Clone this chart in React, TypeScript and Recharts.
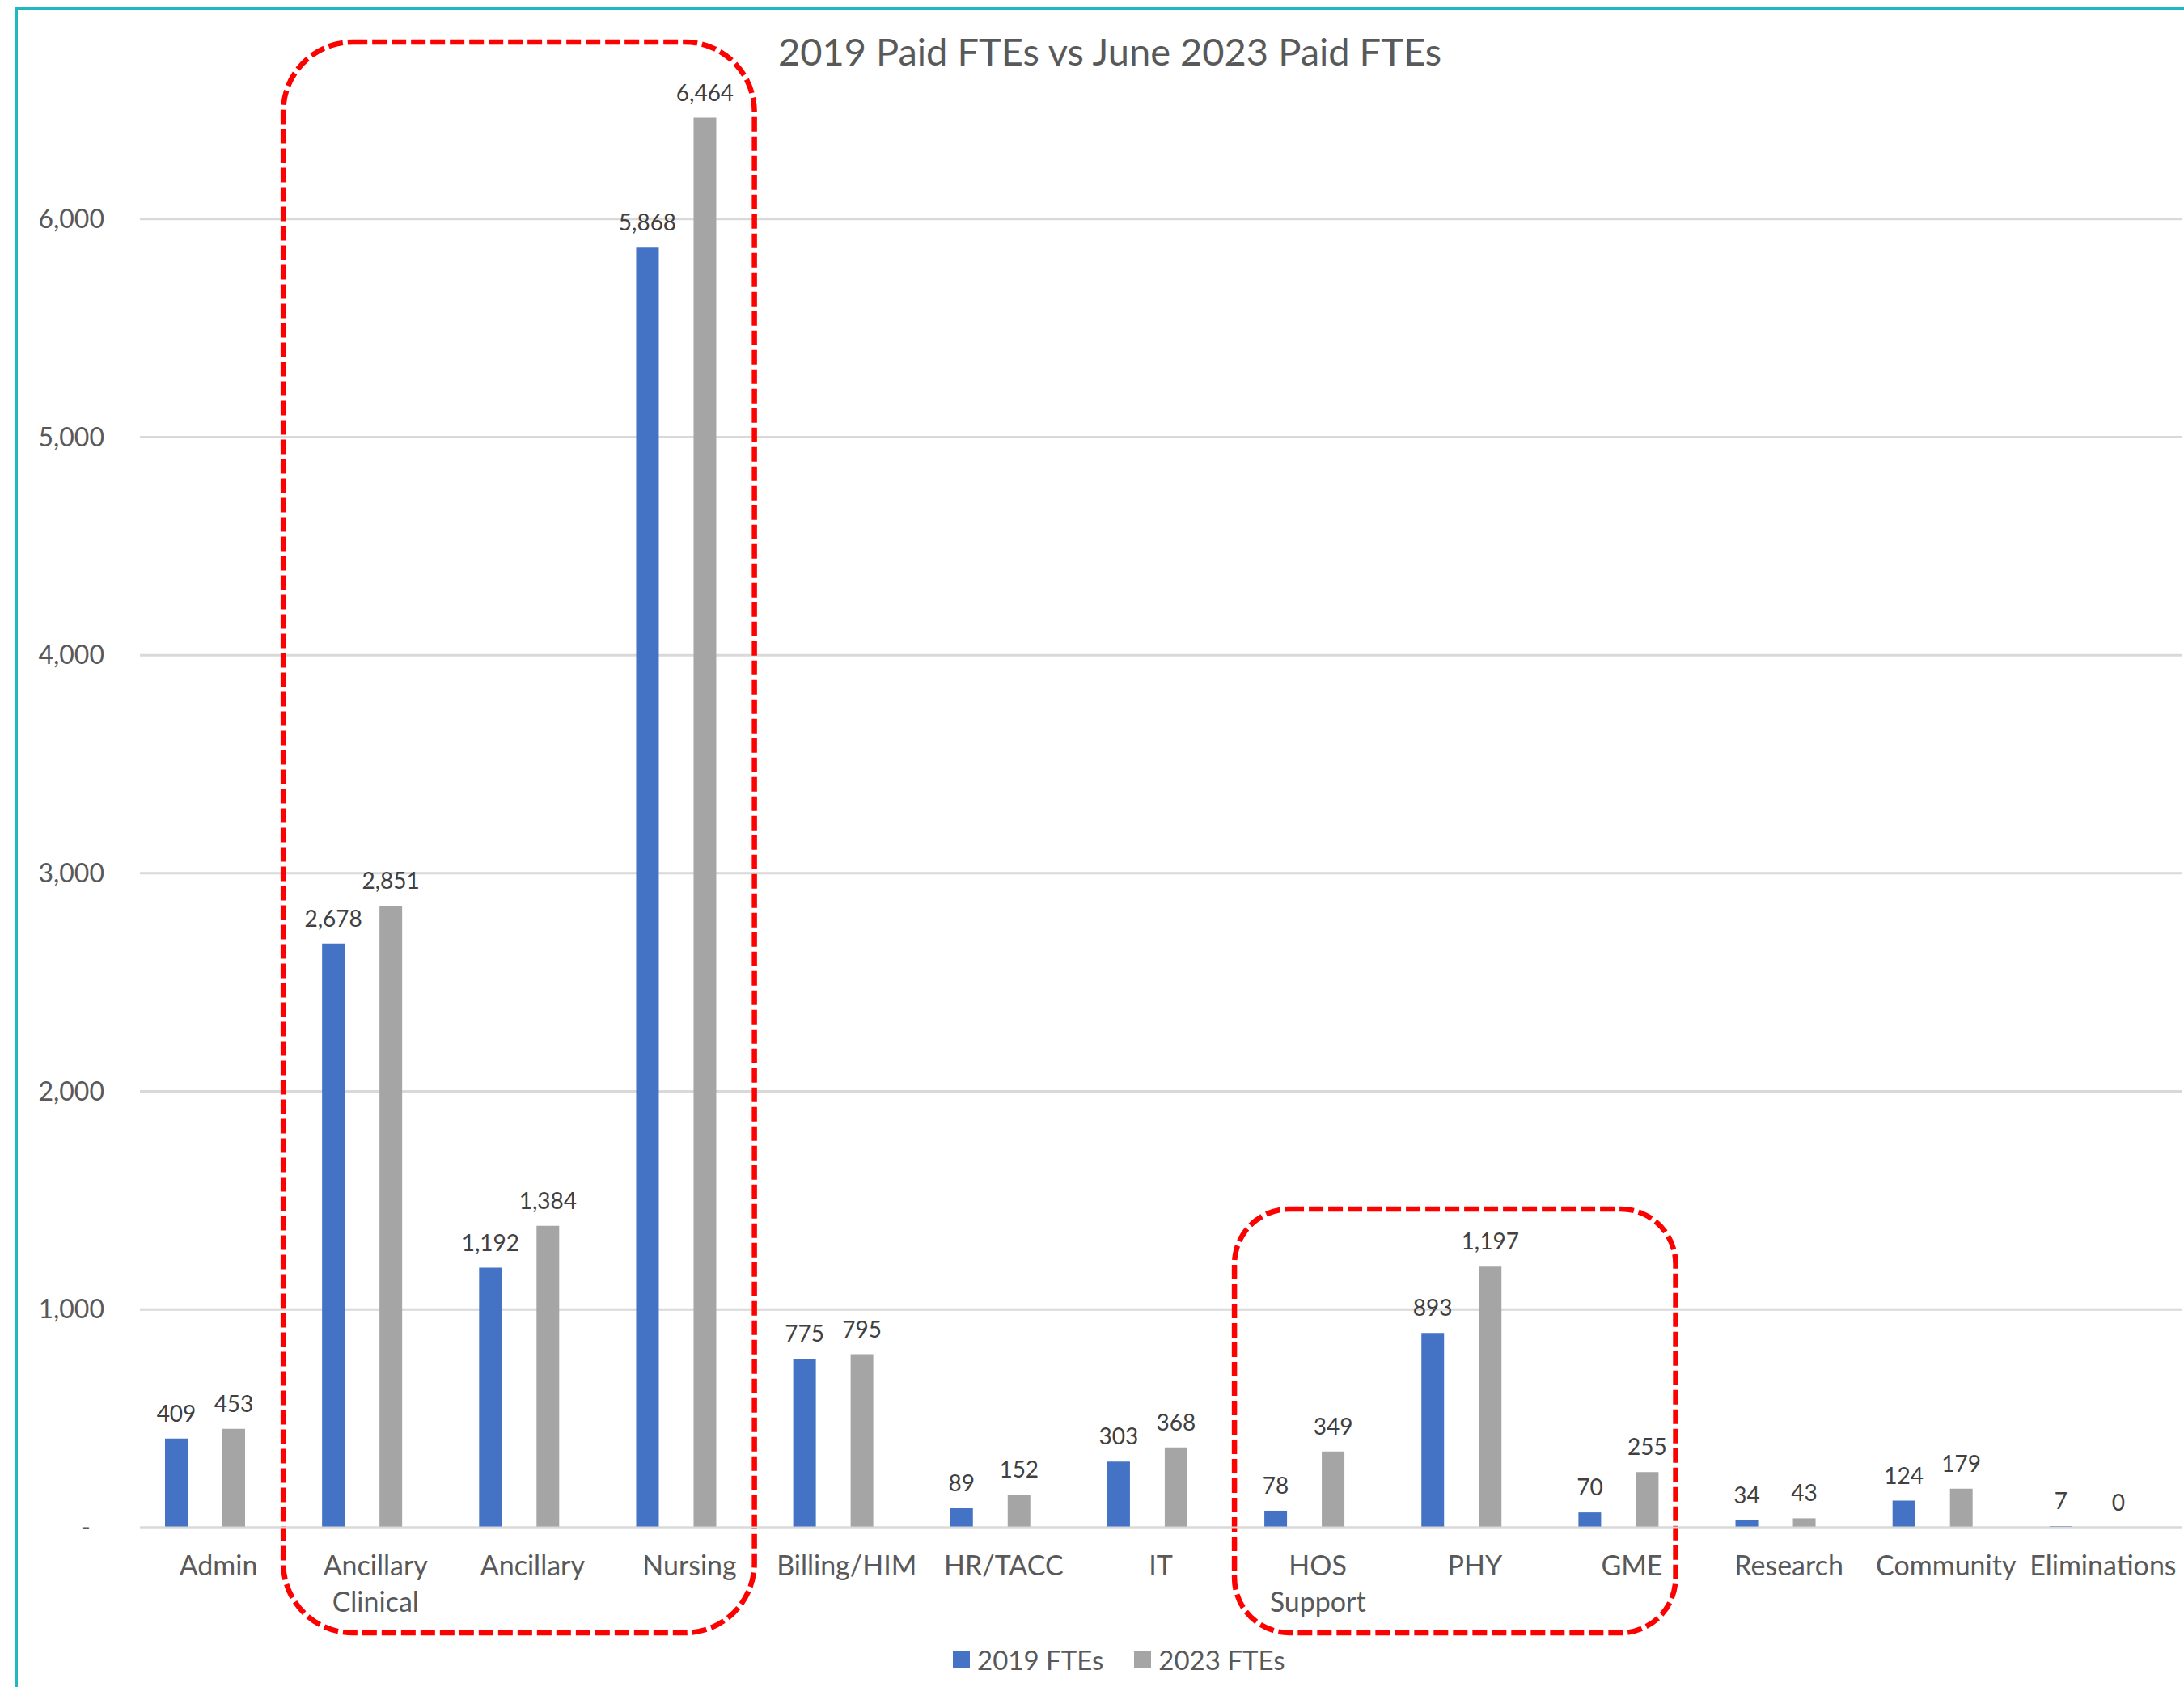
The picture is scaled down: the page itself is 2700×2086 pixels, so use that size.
import React from "react";
import {
  BarChart,
  Bar,
  XAxis,
  YAxis,
  CartesianGrid,
  Legend,
  LabelList,
  ReferenceArea,
} from "recharts";

const categories = [
  "Admin",
  "Ancillary Clinical",
  "Ancillary",
  "Nursing",
  "Billing/HIM",
  "HR/TACC",
  "IT",
  "HOS Support",
  "PHY",
  "GME",
  "Research",
  "Community",
  "Eliminations",
];
const fte2019 = [409, 2678, 1192, 5868, 775, 89, 303, 78, 893, 70, 34, 124, 7];
const fte2023 = [453, 2851, 1384, 6464, 795, 152, 368, 349, 1197, 255, 43, 179, 0];
const yTicks = [0, 1000, 2000, 3000, 4000, 5000, 6000];
const seriesNames = ["2019 FTEs", "2023 FTEs"];
const title = "2019 Paid FTEs vs June 2023 Paid FTEs";

const data = categories.map((name, i) => ({
  name,
  fte2019: fte2019[i],
  fte2023: fte2023[i],
}));

const FONT = "Lato, 'Open Sans', sans-serif";
const TEXT = "#595959";
const LABEL = "#404040";
const GRID = "#D9D9D9";

const fmt = (v: number) => Number(v).toLocaleString("en-US");

// keep zero bars as (invisible) hairlines so their "0" label still gets drawn
const keepZero = (v: number) => (v === 0 ? 0.01 : 0);

// dashed rounded boxes around the highlighted groups
const roundBox = (insetL: number, insetR: number, radius: number) => (props: any) => {
  const { x, y, width, height } = props;
  return (
    <rect
      x={x + insetL}
      y={y}
      width={width - insetL - insetR}
      height={height}
      rx={radius}
      ry={radius}
      fill="none"
      stroke="#FF0000"
      strokeWidth={6.5}
      strokeDasharray="18 6"
    />
  );
};

function BarValue(props: any) {
  const { x, y, width, value } = props;
  if (value === undefined || value === null) return null;
  return (
    <text
      x={Number(x) + Number(width) / 2}
      y={Number(y) - 21}
      textAnchor="middle"
      fill={LABEL}
      fontSize={28}
      fontFamily={FONT}
    >
      {fmt(value)}
    </text>
  );
}

function CategoryTick({ x, y, payload }: any) {
  const lines = String(payload.value).split(" ");
  return (
    <text
      x={x + 17}
      y={y}
      textAnchor="middle"
      fill={TEXT}
      fontSize={34}
      fontFamily={FONT}
    >
      {lines.map((line, i) => (
        <tspan key={i} x={x + 17} dy={i === 0 ? 59 : 45}>
          {line}
        </tspan>
      ))}
    </text>
  );
}

function ValueTick({ x, y, payload }: any) {
  const zero = payload.value === 0;
  return (
    <text
      x={zero ? x - 17 : x}
      y={y}
      dy="0.35em"
      textAnchor="end"
      fill={TEXT}
      fontSize={32}
      fontFamily={FONT}
    >
      {zero ? "-" : fmt(payload.value)}
    </text>
  );
}

function LegendContent({ payload }: any) {
  return (
    <div style={{ display: "flex", alignItems: "center", fontFamily: FONT, fontSize: 33, lineHeight: "40px", color: TEXT }}>
      {(payload || []).map((p: any, i: number) => (
        <div key={p.value} style={{ display: "flex", alignItems: "center", marginRight: i === 0 ? 38 : 0 }}>
          <span style={{ display: "inline-block", width: 21, height: 21, background: p.color, marginRight: 9 }} />
          <span>{p.value}</span>
        </div>
      ))}
    </div>
  );
}

export default function App() {
  return (
    <div
      style={{
        position: "absolute",
        left: 0,
        top: 0,
        width: 2700,
        height: 2086,
        overflow: "hidden",
        background: "#fff",
        fontFamily: FONT,
      }}
    >
      <div
        style={{
          position: "absolute",
          left: 0,
          top: 40,
          width: 2744,
          textAlign: "center",
          fontSize: 47,
          lineHeight: "47px",
          color: TEXT,
        }}
      >
        {title}
      </div>
      <div style={{ position: "absolute", left: 0, top: 0 }}>
        <BarChart
          width={2700}
          height={2086}
          data={data}
          margin={{ top: 1, right: 3, left: 73, bottom: 97 }}
          barGap={43}
        >
          <CartesianGrid
            vertical={false}
            horizontalValues={yTicks}
            stroke={GRID}
            strokeWidth={3}
          />
          <XAxis
            dataKey="name"
            interval={0}
            height={100}
            padding={{ left: -17, right: 17 }}
            axisLine={{ stroke: GRID, strokeWidth: 3 }}
            tickLine={false}
            tickSize={0}
            tickMargin={0}
            tick={<CategoryTick />}
          />
          <YAxis
            width={100}
            domain={[0, 7000]}
            ticks={yTicks}
            axisLine={false}
            tickLine={false}
            tickSize={0}
            tickMargin={44}
            tick={<ValueTick />}
          />
          <Legend
            layout="horizontal"
            verticalAlign="middle"
            align="center"
            wrapperStyle={{ left: 1178, top: 2032, width: "auto" }}
            content={<LegendContent />}
          />
          <Bar dataKey="fte2019" name={seriesNames[0]} fill="#4472C4" barSize={28} minPointSize={keepZero} isAnimationActive={false}>
            <LabelList dataKey="fte2019" content={<BarValue />} />
          </Bar>
          <Bar dataKey="fte2023" name={seriesNames[1]} fill="#A5A5A5" barSize={28} minPointSize={keepZero} isAnimationActive={false}>
            <LabelList dataKey="fte2023" content={<BarValue />} />
          </Bar>
          <ReferenceArea
            x1="Ancillary Clinical"
            x2="Nursing"
            y1={-482}
            y2={6811}
            ifOverflow="visible"
            shape={roundBox(0, 0, 86)}
          />
          <ReferenceArea
            x1="HOS Support"
            x2="GME"
            y1={-482}
            y2={1461}
            ifOverflow="visible"
            shape={roundBox(11, 26, 68)}
          />
        </BarChart>
      </div>
      <div
        style={{
          position: "absolute",
          left: 19,
          top: 9,
          width: 2720,
          height: 2120,
          borderTop: "3px solid #1FB7C0",
          borderLeft: "3px solid #1FB7C0",
          pointerEvents: "none",
        }}
      />
    </div>
  );
}
